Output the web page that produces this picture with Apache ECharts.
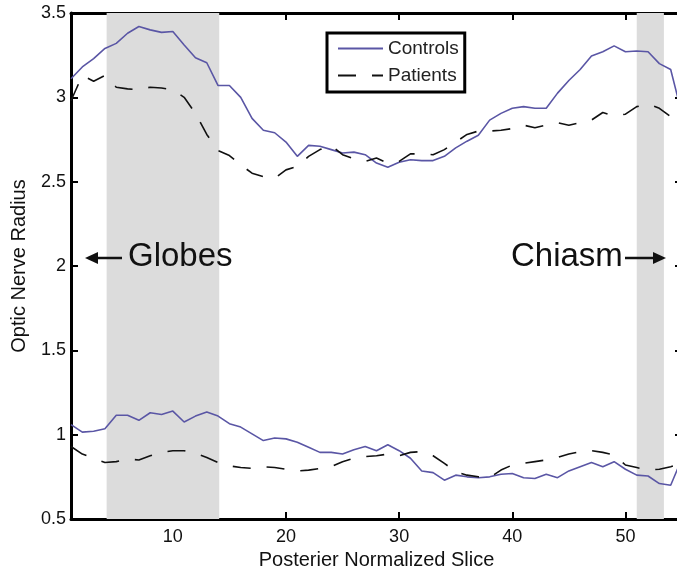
<!DOCTYPE html>
<html>
<head>
<meta charset="utf-8">
<title>Optic Nerve Radius</title>
<script src="https://cdn.jsdelivr.net/npm/echarts@6/dist/echarts.min.js"></script>
<style>
html,body{margin:0;padding:0;background:#fff;}
#main{width:677px;height:571px;}
</style>
</head>
<body>
<div id="main"></div>
<script>
// slice index (x)
var slices = [1,2,3,4,5,6,7,8,9,10,11,12,13,14,15,16,17,18,19,20,21,22,23,24,25,26,27,28,29,30,31,32,33,34,35,36,37,38,39,40,41,42,43,44,45,46,47,48,49,50,51,52,53,54,55]
// upper curves
var controlsUpper = [3.11,3.18,3.23,3.29,3.32,3.38,3.42,3.40,3.385,3.39,3.31,3.235,3.205,3.07,3.07,3.00,2.875,2.805,2.79,2.735,2.65,2.715,2.71,2.69,2.67,2.675,2.66,2.61,2.585,2.615,2.63,2.625,2.625,2.65,2.70,2.74,2.775,2.865,2.905,2.935,2.945,2.935,2.935,3.025,3.10,3.165,3.245,3.27,3.305,3.27,3.275,3.27,3.20,3.165,2.90]
var patientsUpper = [2.98,3.13,3.095,3.13,3.06,3.05,3.045,3.06,3.055,3.045,3.00,2.905,2.78,2.685,2.655,2.60,2.55,2.53,2.52,2.57,2.59,2.65,2.69,2.715,2.66,2.635,2.62,2.64,2.61,2.62,2.665,2.665,2.66,2.69,2.735,2.78,2.80,2.80,2.805,2.815,2.835,2.82,2.835,2.85,2.835,2.85,2.865,2.91,2.89,2.90,2.945,2.96,2.935,2.885,2.85]
// lower curves
var controlsLower = [1.06,1.015,1.02,1.035,1.115,1.115,1.085,1.13,1.12,1.14,1.075,1.11,1.135,1.11,1.065,1.045,1.005,0.965,0.98,0.975,0.955,0.925,0.895,0.895,0.885,0.91,0.93,0.905,0.94,0.905,0.86,0.785,0.775,0.73,0.76,0.75,0.745,0.75,0.765,0.77,0.745,0.74,0.765,0.745,0.785,0.81,0.835,0.81,0.84,0.795,0.76,0.755,0.71,0.70,0.86]
var patientsLower = [0.93,0.885,0.86,0.835,0.84,0.855,0.85,0.875,0.895,0.905,0.905,0.89,0.865,0.835,0.815,0.805,0.80,0.81,0.805,0.795,0.785,0.79,0.80,0.81,0.84,0.86,0.87,0.875,0.885,0.875,0.895,0.90,0.875,0.83,0.78,0.76,0.75,0.745,0.79,0.82,0.83,0.84,0.85,0.865,0.885,0.90,0.905,0.895,0.88,0.82,0.805,0.79,0.795,0.81,0.83]
// shaded regions (globes / chiasm)
var bands = [[4.15,14.1],[51.0,53.4]]
var xTicks = [10,20,30,40,50]

var font = 'Liberation Sans'
var ctrlColor = '#5a56a5'

function pairs(ys){
    var out = []
    for(var i = 0;i<slices.length;i++){
        out.push([slices[i], ys[i]])
    }
    return out
}

var chart = echarts.init(document.getElementById('main'))

var axisLine = {show:true, lineStyle:{color:'#000', width:3}}
var axisTick = {show:true, inside:true, length:7, lineStyle:{color:'#000', width:2}}

var option = {
    animation:false,
    textStyle:{fontFamily:font},
    // grid runs a little past the right edge, like the cropped figure
    grid:{left:71, top:13, width:611, height:506, outerBoundsMode:'none', containLabel:false},
    legend:{
        data:['Controls','Patients'],
        orient:'vertical',
        left:327,
        top:33,
        padding:[6,6,7,10],
        itemWidth:45,
        itemHeight:14,
        itemGap:8,
        itemStyle:{opacity:0},
        borderColor:'#000',
        borderWidth:3,
        backgroundColor:'#fff',
        textStyle:{fontSize:19, color:'#222', fontFamily:font}
    },
    xAxis:[{
        type:'value', min:1, max:55, position:'bottom',
        axisLine:axisLine,
        axisTick:{show:true, inside:true, length:7, lineStyle:{color:'#000', width:2}, customValues:xTicks},
        axisLabel:{fontSize:18, color:'#111', margin:9, customValues:xTicks},
        splitLine:{show:false},
        name:'Posterier Normalized Slice',
        nameLocation:'middle',
        nameGap:29,
        nameTextStyle:{fontSize:20, color:'#111', fontFamily:font, verticalAlign:'top'}
    },{
        type:'value', min:1, max:55, position:'top',
        axisLine:axisLine,
        axisTick:{show:true, inside:true, length:7, lineStyle:{color:'#000', width:2}, customValues:xTicks},
        axisLabel:{show:false},
        splitLine:{show:false}
    }],
    yAxis:[{
        type:'value', min:0.5, max:3.5, interval:0.5, position:'left',
        axisLine:axisLine,
        axisTick:axisTick,
        axisLabel:{fontSize:18, color:'#111', margin:5},
        splitLine:{show:false},
        name:'Optic Nerve Radius',
        nameLocation:'middle',
        nameGap:42,
        nameTextStyle:{fontSize:20, color:'#111', fontFamily:font}
    },{
        type:'value', min:0.5, max:3.5, interval:0.5, position:'right',
        axisLine:axisLine,
        axisTick:axisTick,
        axisLabel:{show:false},
        splitLine:{show:false}
    }],
    series:[
        {
            name:'bands', type:'line', data:[], z:1, silent:true,
            markArea:{
                silent:true,
                itemStyle:{color:'#dcdcdc'},
                data:bands.map(function(b){ return [{xAxis:b[0]},{xAxis:b[1]}] })
            }
        },
        {
            name:'Controls', type:'line', data:pairs(controlsUpper), z:3,
            symbol:'none', lineStyle:{color:ctrlColor, width:1.6}, itemStyle:{color:ctrlColor}
        },
        {
            name:'Patients', type:'line', data:pairs(patientsUpper), z:3,
            symbol:'none', lineStyle:{color:'#111', width:1.6, type:[18,16]}, itemStyle:{color:'#111'}
        },
        {
            name:'Controls', type:'line', data:pairs(controlsLower), z:3,
            symbol:'none', lineStyle:{color:ctrlColor, width:1.6}, itemStyle:{color:ctrlColor}
        },
        {
            name:'Patients', type:'line', data:pairs(patientsLower), z:3,
            symbol:'none', lineStyle:{color:'#111', width:1.6, type:[18,16]}, itemStyle:{color:'#111'}
        }
    ],
    graphic:[
        // Globes arrow + text
        {type:'line', z:10, shape:{x1:122, y1:258, x2:95, y2:258}, style:{stroke:'#111', lineWidth:2.5}},
        {type:'polygon', z:10, shape:{points:[[85,258],[98,252],[98,264]]}, style:{fill:'#111'}},
        {type:'text', z:10, left:128, top:240, style:{text:'Globes', font:'33px "Liberation Sans"', fill:'#111'}},
        // Chiasm arrow + text
        {type:'text', z:10, left:511, top:240, style:{text:'Chiasm', font:'33px "Liberation Sans"', fill:'#111'}},
        {type:'line', z:10, shape:{x1:625, y1:258, x2:655, y2:258}, style:{stroke:'#111', lineWidth:2.5}},
        {type:'polygon', z:10, shape:{points:[[666,258],[653,252],[653,264]]}, style:{fill:'#111'}}
    ]
}
chart.setOption(option)
</script>
</body>
</html>
